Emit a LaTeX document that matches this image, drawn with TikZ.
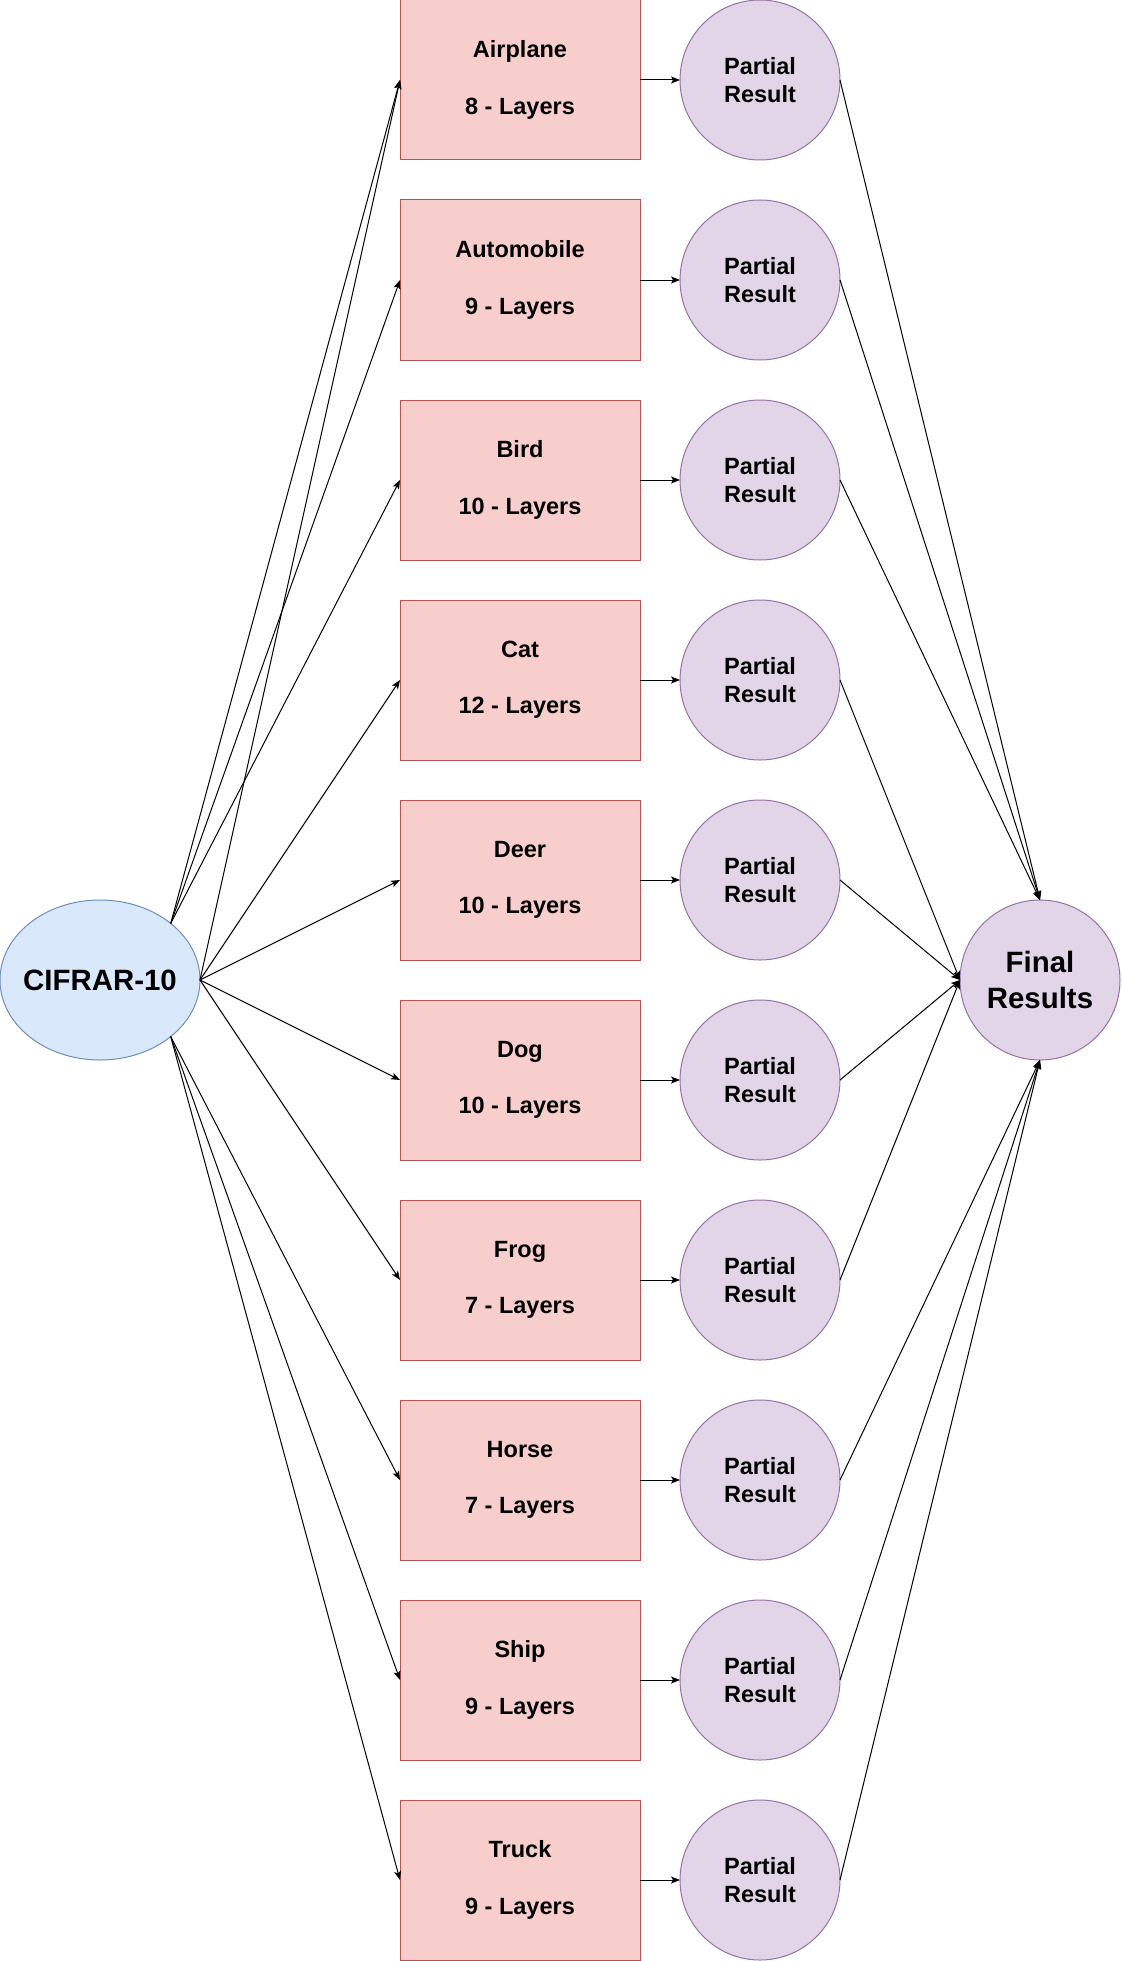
\documentclass[tikz,border=0pt]{standalone}
\usepackage{fontspec}
\setmainfont{Liberation Sans}
\usetikzlibrary{shapes.geometric,arrows.meta}
\definecolor{rfill}{HTML}{F8CECC}
\definecolor{rdraw}{HTML}{B85450}
\definecolor{pfill}{HTML}{E1D5E7}
\definecolor{pdraw}{HTML}{9673A6}
\definecolor{bfill}{HTML}{DAE8FC}
\definecolor{bdraw}{HTML}{6C8EBF}
\begin{document}
\begin{tikzpicture}[x=1pt,y=-1pt,
  clsbox/.style={rectangle,draw=rdraw,fill=rfill,line width=1pt,minimum width=240pt,minimum height=160pt,inner sep=0pt,outer sep=0pt,align=center,font=\fontsize{23.5}{28.2}\selectfont\bfseries},
  partial/.style={circle,draw=pdraw,fill=pfill,line width=1pt,minimum size=160pt,inner sep=0pt,outer sep=0pt,align=center,font=\fontsize{23.5}{28.2}\selectfont\bfseries},
  finalres/.style={circle,draw=pdraw,fill=pfill,line width=1pt,minimum size=160pt,inner sep=0pt,outer sep=0pt,align=center,font=\fontsize{29.4}{36}\selectfont\bfseries},
  dataset/.style={ellipse,draw=bdraw,fill=bfill,line width=1pt,minimum width=200pt,minimum height=160pt,inner sep=0pt,outer sep=0pt},
  dstext/.style={font=\fontsize{29.4}{35}\selectfont\bfseries,inner sep=0pt},
  arr/.style={line width=1pt,-{Stealth[length=9pt,width=7pt,inset=2pt]}}
]
\useasboundingbox (0,0) rectangle (1121,1961);
\node[dataset,label={[dstext]center:CIFRAR-10}] (cif) at (100,980) {};
\node[finalres] (fin) at (1040,980) {Final\\Results};
\foreach \n/\lab/\l [count=\i from 0] in {air/Airplane/8,auto/Automobile/9,bird/Bird/10,cat/Cat/12,deer/Deer/10,dog/Dog/10,frog/Frog/7,horse/Horse/7,ship/Ship/9,truck/Truck/9} {
  \node[clsbox] (\n) at (520,80+200*\i) {\lab\\[28.2pt]\l{} - Layers};
  \node[partial] (p\n) at (760,80+200*\i) {Partial\\Result};
  \draw[arr] (\n.east) -- (p\n.west);
}
% dataset to classifiers
\draw[arr] (cif.north east) -- (air.west);
\draw[arr] (cif.east) -- (air.west);
\draw[arr] (cif.north east) -- (auto.west);
\draw[arr] (cif.north east) -- (bird.west);
\draw[arr] (cif.east) -- (cat.west);
\draw[arr] (cif.east) -- (deer.west);
\draw[arr] (cif.east) -- (dog.west);
\draw[arr] (cif.east) -- (frog.west);
\draw[arr] (cif.south east) -- (horse.west);
\draw[arr] (cif.south east) -- (ship.west);
\draw[arr] (cif.south east) -- (truck.west);
% partial results to final
\foreach \n in {air,auto,bird} \draw[arr] (p\n.east) -- (fin.north);
\foreach \n in {cat,deer,dog,frog} \draw[arr] (p\n.east) -- (fin.west);
\foreach \n in {horse,ship,truck} \draw[arr] (p\n.east) -- (fin.south);
\end{tikzpicture}
\end{document}
